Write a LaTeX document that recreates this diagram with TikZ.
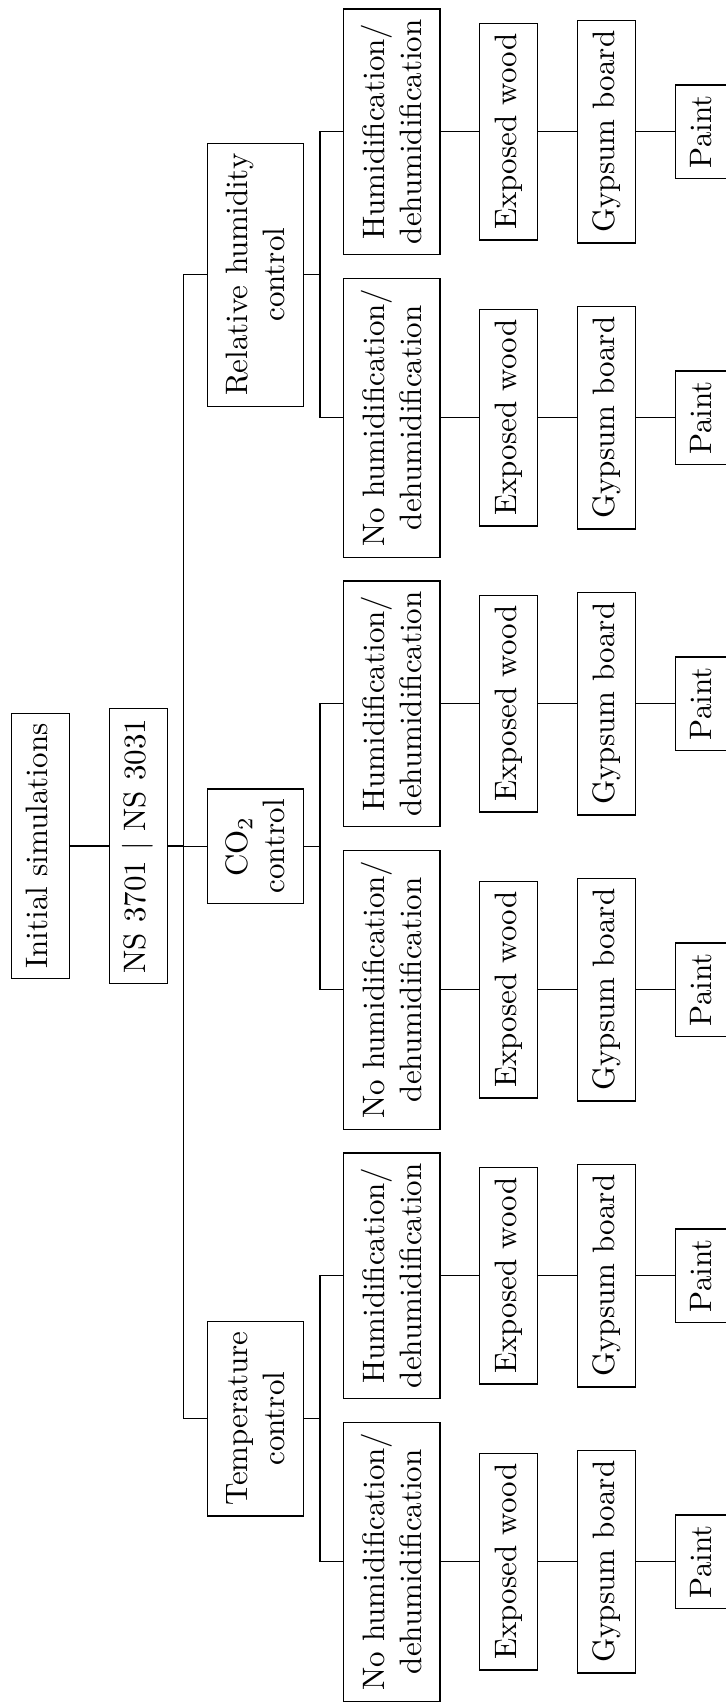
\documentclass[tikz,border=0pt]{standalone}
\usepackage{tikz}
\usetikzlibrary{positioning}
\tikzset{
  boxbase/.style={draw,rotate=90,align=center},
  box/.style={boxbase,text height=8.4pt,text depth=3.6pt},
  tallbox/.style={boxbase,minimum height=31.15pt},
}

\begin{document}
\begin{tikzpicture}[x=0.3226pt,y=-0.3226pt]
  \useasboundingbox (0,0) rectangle (726,1702);
  % root and standards
  \node[box] (init) at (40.3,846) {Initial simulations};
  \node[box] (ns) at (138.2,846) {NS 3701 | NS 3031};
  % control strategies
  \node[tallbox] (temp) at (255.5,1418.7) {Temperature\\control};
  \node[tallbox] (co2) at (255.5,846.3) {CO$_2$\\control};
  \node[tallbox] (rh) at (255.5,274.7) {Relative humidity\\control};
  % humidification cases
  \node[tallbox] (temp-no) at (391.6,1561.7) {No humidification/\\dehumidification};
  \node[tallbox] (temp-hum) at (391.6,1275.7) {Humidification/\\dehumidification};
  \node[tallbox] (co2-no) at (391.6,989.7) {No humidification/\\dehumidification};
  \node[tallbox] (co2-hum) at (391.6,703.7) {Humidification/\\dehumidification};
  \node[tallbox] (rh-no) at (391.6,417.7) {No humidification/\\dehumidification};
  \node[tallbox] (rh-hum) at (391.6,131.7) {Humidification/\\dehumidification};
  % surface materials
  \foreach \br in {temp-no,temp-hum,co2-no,co2-hum,rh-no,rh-hum} {
    \node[box,anchor=north] (\br-wood) at ([xshift=12.5pt]\br.south) {Exposed wood};
    \node[box,anchor=north] (\br-gyp) at ([xshift=12.5pt]\br-wood.south) {Gypsum board};
    \node[box,anchor=north] (\br-paint) at ([xshift=12.5pt]\br-gyp.south) {Paint};
    \draw (\br) -- (\br-wood) -- (\br-gyp) -- (\br-paint);
  }
  % forks
  \draw (init) -- (ns);
  \foreach \c in {temp,co2,rh} {
    \draw (ns.south) -- ++(5pt,0) |- (\c.north);
    \draw (\c.south) -- ++(5pt,0) |- (\c-no.north);
    \draw (\c.south) -- ++(5pt,0) |- (\c-hum.north);
  }
\end{tikzpicture}
\end{document}
